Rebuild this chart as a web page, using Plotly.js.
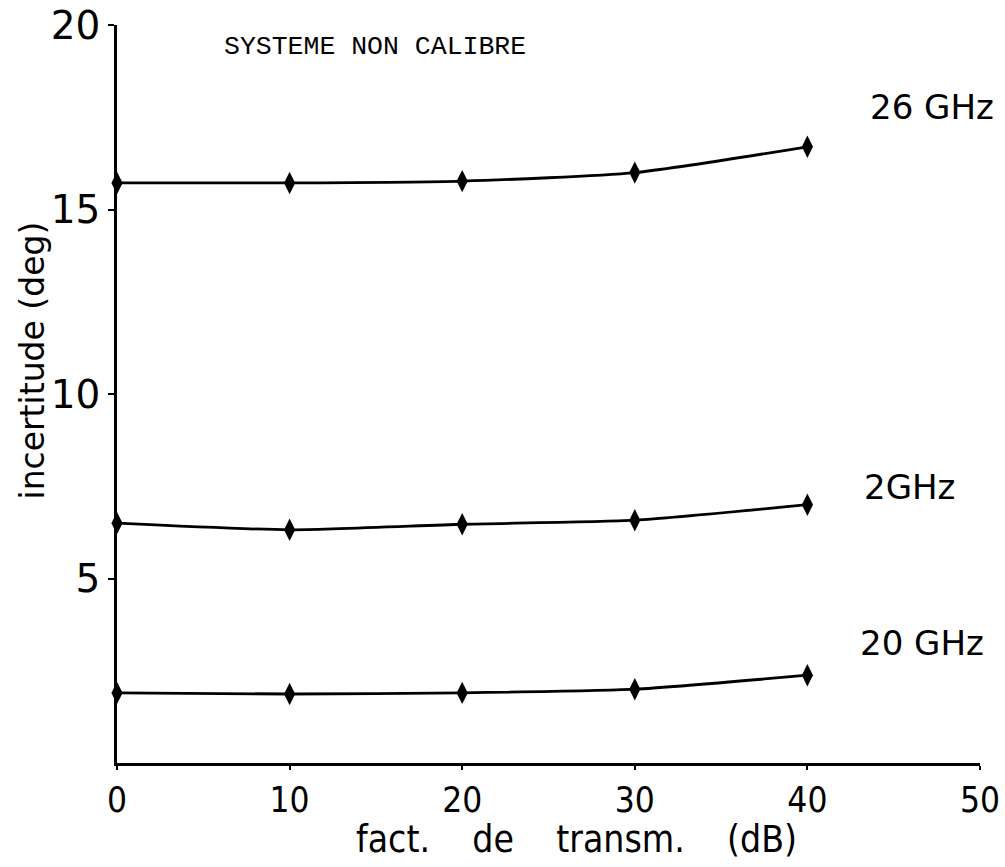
<!DOCTYPE html>
<html><head><meta charset="utf-8">
<script src="https://cdn.plot.ly/plotly-3.0.1.min.js"></script>
<style>body{margin:0;background:#fff}#g{width:1005px;height:867px}</style>
</head><body><div id="g"></div>
<script>
const xdB = [0, 10, 20, 30, 40];
const y26GHz = [15.72, 15.72, 15.77, 16.0, 16.7];
const y2GHz = [6.5, 6.32, 6.47, 6.58, 7.0];
const y20GHz = [1.9, 1.87, 1.9, 2.0, 2.38];
const seriesNames = ['26 GHz', '2GHz', '20 GHz'];
const xTicks = [0, 10, 20, 30, 40, 50];
const yTicks = [5, 10, 15, 20];

const mk = (y, name) => ({
  x: xdB, y: y, name: name, type: 'scatter', mode: 'lines+markers',
  line: {color: '#000', width: 2.8, shape: 'spline', smoothing: 0.6},
  marker: {symbol: 'diamond-tall', size: 16, color: '#000'},
  showlegend: false, cliponaxis: false
});
const data = [mk(y26GHz, seriesNames[0]), mk(y2GHz, seriesNames[1]), mk(y20GHz, seriesNames[2])];

const font = 'DejaVu Sans, Liberation Sans, sans-serif';
const cond = 'DejaVu Sans Condensed, Liberation Sans Narrow, DejaVu Sans, sans-serif';
const nb = '\u00A0\u00A0\u00A0\u00A0';
const layout = {
  width: 1005, height: 867,
  margin: {l: 117, r: 25, t: 25, b: 104},
  paper_bgcolor: '#fff', plot_bgcolor: '#fff',
  xaxis: {range: [0, 50], tickvals: xTicks, showgrid: false, zeroline: false,
    showline: true, linecolor: '#000', linewidth: 2.8, ticks: 'outside', ticklen: 4,
    tickwidth: 2, tickcolor: '#000', tickfont: {family: cond, size: 35, color: '#000'}},
  yaxis: {range: [0, 20], tickvals: yTicks, showgrid: false, zeroline: false,
    showline: true, linecolor: '#000', linewidth: 2.8, ticks: 'outside', ticklen: 6,
    tickwidth: 2, tickcolor: '#000', tickfont: {family: font, size: 39, color: '#000'}},
  annotations: [
    {text: 'SYSTEME NON CALIBRE', xref: 'paper', yref: 'paper', x: 0.1217, y: 0.970,
     xanchor: 'left', yanchor: 'middle', showarrow: false,
     font: {family: 'Liberation Mono, DejaVu Sans Mono, monospace', size: 26.5, color: '#000'}},
    {text: 'incertitude (deg)', xref: 'paper', yref: 'paper', x: -0.098, y: 0.546,
     textangle: -90, showarrow: false, xanchor: 'center', yanchor: 'middle',
     font: {family: font, size: 33, color: '#000'}},
    {text: 'fact.' + nb + 'de' + nb + 'transm.' + nb + '(dB)', xref: 'paper', yref: 'paper',
     x: 0.533, y: -0.104, showarrow: false, xanchor: 'center', yanchor: 'middle',
     font: {family: cond, size: 37, color: '#000'}},
    {text: seriesNames[0], xref: 'paper', yref: 'paper', x: 0.870, y: 0.889,
     showarrow: false, xanchor: 'left', yanchor: 'middle',
     font: {family: font, size: 34, color: '#000'}},
    {text: seriesNames[1], xref: 'paper', yref: 'paper', x: 0.863, y: 0.374,
     showarrow: false, xanchor: 'left', yanchor: 'middle',
     font: {family: font, size: 34, color: '#000'}},
    {text: seriesNames[2], xref: 'paper', yref: 'paper', x: 0.859, y: 0.163,
     showarrow: false, xanchor: 'left', yanchor: 'middle',
     font: {family: font, size: 34, color: '#000'}}
  ]
};
Plotly.newPlot('g', data, layout, {displayModeBar: false, staticPlot: true});
</script></body></html>
